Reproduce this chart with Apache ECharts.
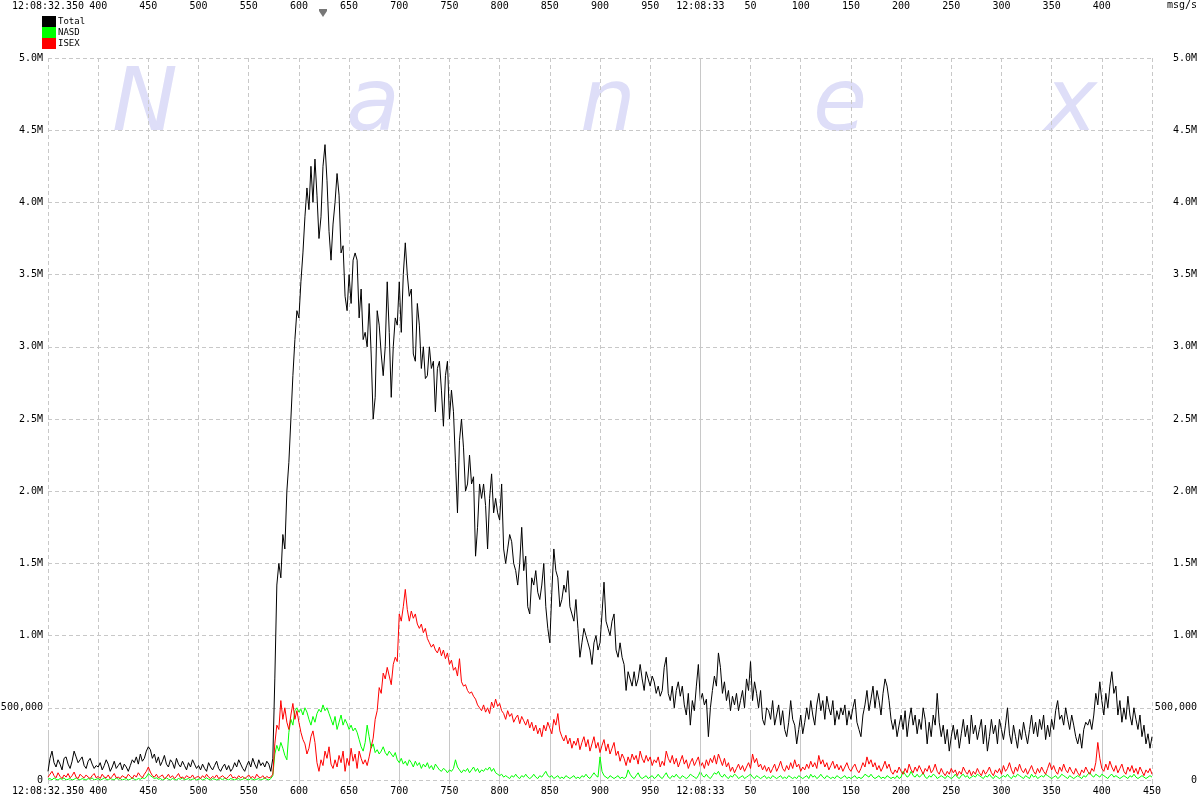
<!DOCTYPE html>
<html><head><meta charset="utf-8">
<script src="https://cdn.jsdelivr.net/npm/echarts@6/dist/echarts.min.js"></script>
<style>html,body{margin:0;padding:0;background:#fff}#c{width:1200px;height:800px}</style>
</head><body><div id="c"></div>
<script>
// time axis: milliseconds after 12:08:32.000, samples every 2 ms from .350 to 33.450
const startMs = 350;
const stepMs = 2;
const endMs = 1450;
const firstTickLabel = '12:08:32.350';
const secondTickLabel = '12:08:33';
const seriesNames = ['Total', 'NASD', 'ISEX'];
// values in thousands of msg/s
const totalK = [
60,150,200,120,90,140,110,70,150,160,110,80,130,200,160,120,140,160,100,80,130,150,110,80,100,
90,120,70,100,140,110,60,90,130,80,100,120,70,110,90,60,100,140,120,160,110,180,130,150,200,
230,210,150,180,120,160,100,130,170,110,90,140,120,80,150,110,90,130,100,70,120,90,140,110,80,
100,70,110,80,60,120,90,70,100,130,80,60,90,110,70,100,60,80,120,90,140,110,80,60,100,
130,90,150,110,80,140,100,120,90,130,110,60,150,700,1350,1500,1400,1700,1600,2000,2200,2500,2800,3050,3250,
3200,3450,3650,3900,4100,3950,4250,4000,4300,4050,3750,3900,4250,4400,4150,3800,3600,3850,4000,4200,4050,3650,3700,3350,3250,
3500,3300,3600,3650,3600,3200,3400,3050,3100,3000,3300,2950,2500,2650,3250,3150,2950,2800,3000,3450,3100,2650,3000,3200,3150,
3450,3100,3500,3720,3500,3350,3400,2950,2900,3300,3150,2850,3000,2780,2800,3000,2850,2900,2550,2850,2900,2700,2450,2800,2900,
2500,2700,2550,2200,1850,2350,2500,2300,2000,2050,2250,2050,2100,1550,1750,2050,1950,2050,1900,1600,1950,2120,1850,1950,1850,
1800,2050,1600,1500,1600,1700,1650,1500,1450,1350,1500,1750,1450,1550,1200,1150,1400,1350,1450,1300,1250,1350,1500,1200,1050,
950,1300,1600,1450,1400,1200,1250,1350,1300,1450,1200,1150,1100,1250,1050,850,950,1050,1000,950,900,800,950,1000,900,
950,1150,1370,1100,1050,1000,1100,1150,900,850,950,850,800,620,750,700,650,750,650,700,800,700,620,750,700,
650,720,680,600,650,580,620,780,850,600,550,650,500,620,680,580,650,520,450,600,380,550,480,650,800,
550,600,520,560,300,500,620,720,650,880,780,600,680,550,620,480,580,520,600,480,550,620,500,700,620,
820,550,680,600,500,620,420,380,500,480,420,550,380,450,520,380,480,350,300,400,550,420,380,250,350,
450,320,400,500,420,550,450,380,520,600,480,550,420,580,500,450,550,380,480,420,500,450,520,380,480,
420,500,560,400,350,300,450,520,620,480,560,650,500,620,550,450,600,700,650,550,420,350,420,300,380,
450,350,480,300,420,500,380,450,320,420,350,500,420,250,400,300,450,380,600,400,300,380,250,350,200,
300,380,280,350,220,320,420,300,380,250,450,320,380,280,350,420,250,380,200,300,420,320,380,250,420,
350,280,380,500,320,250,380,300,220,350,280,400,320,250,350,450,320,400,300,420,350,450,280,380,300,
420,350,480,550,420,450,380,500,420,350,450,380,300,250,320,220,350,400,380,420,350,450,600,520,680,
550,450,600,500,650,750,600,650,450,550,400,500,420,580,450,380,500,420,350,450,300,380,250,320,220,
300];
const nasdK = [
5,10,0,15,5,0,10,5,15,0,5,10,0,5,15,5,0,10,5,0,10,5,15,0,5,
10,0,5,15,5,0,10,5,0,15,5,10,0,5,10,0,5,15,5,0,10,5,15,10,20,
45,30,20,10,15,5,10,0,5,15,5,0,10,5,0,10,5,15,0,5,10,0,5,10,0,
5,10,0,5,15,5,0,10,5,0,5,10,0,15,5,0,10,5,0,5,10,0,5,15,5,
0,10,5,0,5,10,0,5,15,5,0,10,30,180,240,200,260,220,170,140,330,420,380,480,500,
470,490,450,500,470,420,380,440,400,460,490,470,520,480,500,460,420,380,440,350,400,450,380,420,390,
350,380,340,360,330,280,230,200,260,380,300,220,250,190,210,180,200,230,190,170,200,180,160,190,140,
120,150,110,130,100,140,120,90,130,100,120,80,110,90,120,80,100,70,110,90,70,60,80,70,50,
70,60,80,140,90,70,50,70,60,80,50,70,90,60,80,50,70,60,80,70,90,60,80,50,40,
30,40,20,30,20,10,30,20,40,20,10,30,20,40,20,10,20,40,20,10,30,20,40,60,30,
20,30,10,20,30,10,20,10,30,20,10,20,30,10,20,10,30,20,40,20,10,30,50,30,20,
160,60,30,20,10,30,20,10,20,30,10,20,10,20,70,40,20,10,30,50,20,10,20,30,10,
20,30,10,20,40,20,10,30,50,20,10,30,20,40,20,10,30,20,10,20,40,30,20,10,30,
60,30,20,40,20,10,30,50,40,60,30,20,40,20,10,30,20,40,30,10,20,30,10,20,30,
40,20,10,30,20,10,20,30,10,20,10,30,20,10,20,30,10,20,10,30,20,10,20,10,30,
20,10,20,30,10,40,20,30,10,20,40,20,10,30,20,10,20,10,30,20,10,20,30,10,20,
10,20,30,10,20,10,20,40,30,20,40,20,10,20,30,10,20,10,30,20,10,20,10,30,10,
20,60,40,20,30,60,30,20,40,20,30,50,20,10,30,20,40,30,10,20,30,20,10,30,20,
10,20,40,20,10,30,40,20,30,10,20,30,20,40,30,20,10,30,20,40,20,10,30,20,10,
20,30,20,40,20,10,30,20,40,30,20,10,30,20,10,40,20,30,10,20,30,20,40,30,20,
10,20,30,10,20,40,30,20,10,30,20,10,20,30,20,10,30,20,40,50,30,20,40,30,20,
40,30,20,10,30,40,20,30,20,10,20,30,20,10,30,20,40,20,10,20,30,20,10,20,30,
20];
const isexK = [
20,40,60,30,15,50,25,10,35,20,45,15,30,55,20,10,40,25,15,35,20,10,30,45,15,
25,10,40,20,15,35,10,25,45,15,20,10,30,20,15,40,25,10,35,20,50,30,15,40,60,
90,55,30,20,40,15,25,35,10,20,40,15,30,10,25,45,15,20,10,30,20,15,35,10,20,
25,10,30,15,40,20,10,25,15,35,10,20,30,15,10,25,40,15,20,10,30,15,25,10,20,
35,15,25,10,40,20,15,30,10,25,15,20,40,250,380,350,550,420,500,400,350,450,530,420,480,
400,330,280,250,180,220,300,340,260,120,60,140,100,200,150,230,110,80,140,90,170,120,200,60,150,
100,220,130,180,80,200,150,110,140,100,160,230,290,420,480,640,600,740,700,780,720,660,800,850,820,
1150,1100,1200,1320,1180,1100,1170,1120,1150,1080,1050,1080,1020,1050,980,950,920,940,900,880,920,860,900,840,880,
800,830,760,780,720,840,680,650,660,620,600,610,580,560,520,500,480,520,470,500,460,540,500,560,510,
530,480,460,420,480,440,460,400,430,450,390,440,410,380,420,360,400,340,380,320,360,300,380,340,400,
360,320,420,380,460,340,300,270,310,250,290,220,270,240,290,210,260,300,230,280,200,250,300,220,260,
190,240,280,200,250,180,220,260,170,200,130,180,150,100,160,120,180,140,170,110,200,150,120,170,130,
160,100,140,120,160,90,130,100,200,150,120,170,110,150,90,130,170,110,140,80,120,150,100,130,160,
90,120,80,140,100,150,120,170,110,180,140,100,150,90,120,60,90,50,80,110,70,100,60,90,120,
80,180,120,150,90,110,70,100,60,90,50,80,110,60,90,130,80,60,100,70,120,80,140,90,110,
60,90,70,110,80,130,90,120,80,170,110,140,90,120,70,100,130,80,110,70,100,60,90,120,80,
60,90,110,70,50,80,120,90,160,110,140,90,120,70,100,60,90,130,80,110,60,40,70,50,90,
60,40,80,50,110,70,50,90,60,100,70,40,80,60,100,50,70,110,60,40,80,50,30,60,40,
80,50,70,30,60,40,90,60,40,70,30,60,40,80,50,30,70,40,60,90,50,30,70,50,80,
40,100,60,80,120,70,40,90,60,110,70,50,80,40,70,100,60,40,80,50,90,60,40,80,120,
70,100,60,40,90,60,110,70,50,90,60,40,80,50,30,70,50,90,60,40,80,60,120,260,150,
80,60,110,70,130,90,60,100,50,80,110,60,40,90,60,100,50,80,40,90,60,30,70,50,80,
40];
const watermark = ['N', 'a', 'n', 'e', 'x'];

function pairs(arr) { return arr.map((v, i) => [startMs + i * stepMs, v]); }
function xLabel(v) {
  if (v === startMs) return firstTickLabel;
  if (v === 1000) return secondTickLabel;
  return String(v % 1000);
}
function yLabel(v) {
  if (v === 0) return '0';
  if (v < 1000) return (v * 1000).toLocaleString('en-US');
  return (v / 1000).toFixed(1) + 'M';
}
const grid = '#c8c8c8';
const font = 'DejaVu Sans Mono';
const chart = echarts.init(document.getElementById('c'), null, {renderer: 'canvas'});
const wmX = [142, 376, 610, 843, 1075];
const graphics = watermark.map((ch, i) => ({
  type: 'text', left: wmX[i] - 30, top: 63, z: -10, silent: true,
  style: {text: ch, fill: '#dedef8', font: 'italic 88px "DejaVu Sans"'}
}));
graphics.push({type: 'text', right: 3, top: 0, style: {text: 'msg/s', fill: '#000', font: '10px "' + font + '"'}});
graphics.push({type: 'polygon', shape: {points: [[319, 9], [327, 9], [327, 11], [323, 17], [319, 11]]}, style: {fill: '#777'}});

const colors = ['#000000', '#00ff00', '#ff0000'];
const dataSets = [totalK, nasdK, isexK];
chart.setOption({
  animation: false,
  backgroundColor: '#fff',
  graphic: graphics,
  legend: {
    data: seriesNames, orient: 'vertical', left: 42, top: 16, itemWidth: 14, itemHeight: 11,
    itemGap: 0, icon: 'rect', padding: 0, selectedMode: false,
    textStyle: {fontSize: 9, fontFamily: font, color: '#000', padding: [0, 0, 0, -3]}
  },
  grid: {left: 48, right: 48, top: 58, bottom: 20, outerBoundsMode: 'none', containLabel: false},
  xAxis: [
    {type: 'value', min: startMs, max: endMs, interval: 50, position: 'bottom',
     axisLine: {show: false}, axisTick: {show: true, length: 8, lineStyle: {color: grid, type: [4, 3]}},
     axisLabel: {formatter: xLabel, margin: 6, color: '#000', fontSize: 10, fontFamily: font, showMinLabel: true, showMaxLabel: true},
     splitLine: {show: true, lineStyle: {color: grid, type: [4, 3]}}},
    {type: 'value', min: startMs, max: endMs, interval: 50, position: 'top',
     axisLine: {show: false}, axisTick: {show: true, length: 46, lineStyle: {color: grid, type: [4, 3]}},
     axisLabel: {formatter: xLabel, margin: 47, color: '#000', fontSize: 10, fontFamily: font, showMinLabel: true, showMaxLabel: false},
     splitLine: {show: false}}
  ],
  yAxis: [
    {type: 'value', min: 0, max: 5000, interval: 500, position: 'left',
     axisLine: {show: false}, axisTick: {show: false},
     axisLabel: {formatter: yLabel, margin: 5, color: '#000', fontSize: 10, fontFamily: font},
     splitLine: {show: true, lineStyle: {color: grid, type: [4, 3]}}},
    {type: 'value', min: 0, max: 5000, interval: 500, position: 'right',
     axisLine: {show: false}, axisTick: {show: false},
     axisLabel: {formatter: yLabel, margin: 45, align: 'right', color: '#000', fontSize: 10, fontFamily: font},
     splitLine: {show: false}}
  ],
  series: seriesNames.map((name, k) => ({
    name, type: 'line', xAxisIndex: 0, yAxisIndex: 0,
    data: pairs(dataSets[k]), showSymbol: false, symbol: 'none',
    lineStyle: {color: colors[k], width: 1}, itemStyle: {color: colors[k]},
    z: 2 + k,
    markLine: k === 0 ? {silent: true, symbol: 'none', label: {show: false},
      lineStyle: {color: grid, type: 'solid', width: 1}, data: [{xAxis: 1000}]} : undefined
  }))
});
</script></body></html>
